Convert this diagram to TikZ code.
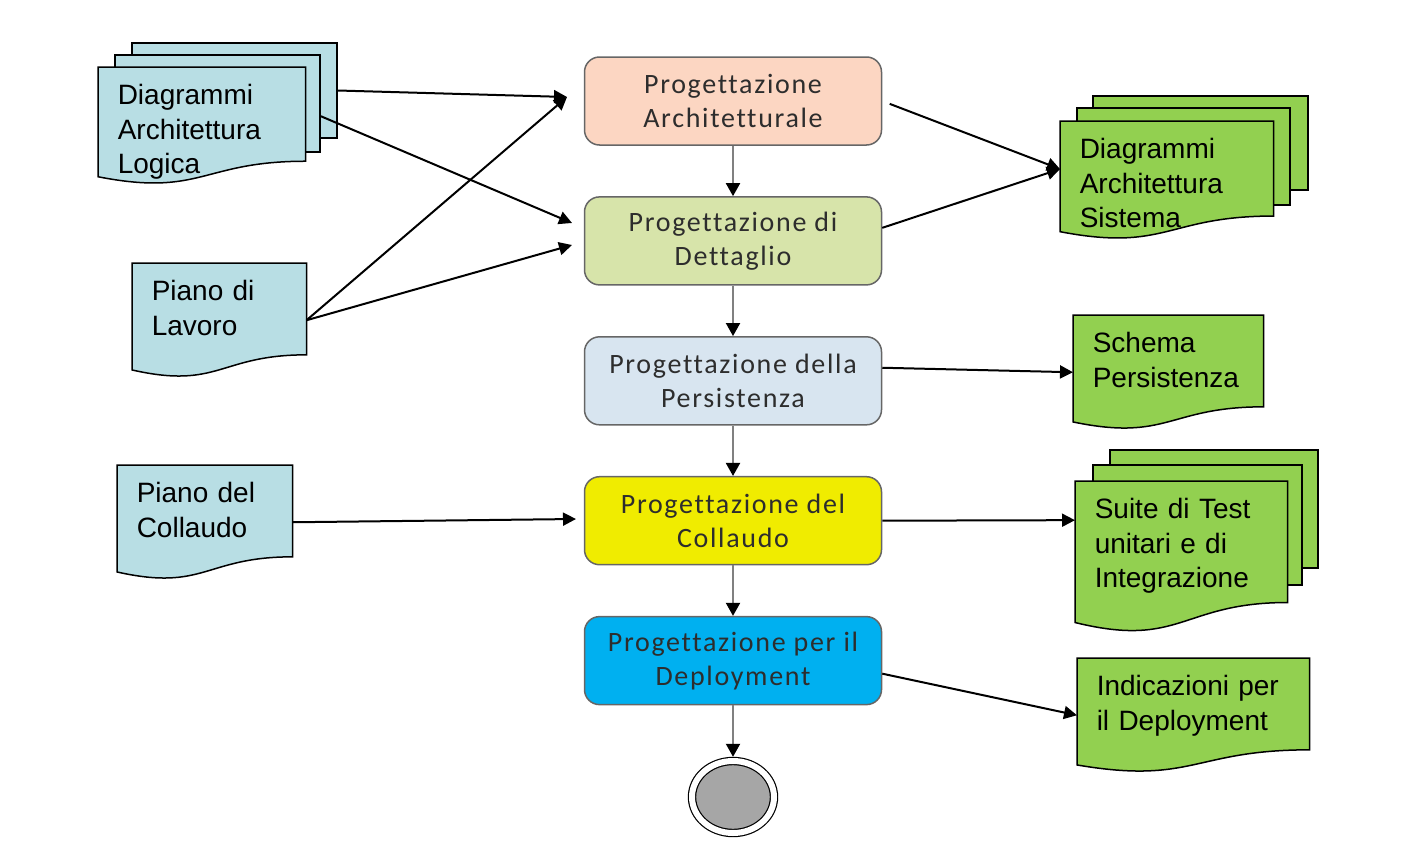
\documentclass[tikz,border=0pt]{standalone}
\usepackage{fontspec}
\setmainfont{Liberation Sans}
\newfontfamily\boxfont[LetterSpace=6, Ligatures=NoCommon]{Carlito}
\usetikzlibrary{positioning, arrows.meta, shapes.geometric}
\definecolor{pesca}{RGB}{252,214,194}
\definecolor{verdino}{RGB}{215,228,170}
\definecolor{azzurrino}{RGB}{216,229,240}
\definecolor{giallo}{RGB}{240,236,0}
\definecolor{ciano}{RGB}{0,176,240}
\definecolor{docBlu}{RGB}{184,222,228}
\definecolor{docVerde}{RGB}{146,208,80}
\definecolor{grigioScuro}{RGB}{45,45,45}

% foglio con bordo inferiore ondulato
\newdimen\fglL \newdimen\fglR \newdimen\fglT \newdimen\fglB \newdimen\fglM \newdimen\fglH
\makeatletter
\pgfdeclareshape{foglio}{%
  \inheritsavedanchors[from=rectangle]
  \inheritanchorborder[from=rectangle]
  \inheritanchor[from=rectangle]{center}
  \inheritanchor[from=rectangle]{text}
  \inheritanchor[from=rectangle]{base}
  \inheritanchor[from=rectangle]{north}
  \inheritanchor[from=rectangle]{south}
  \inheritanchor[from=rectangle]{east}
  \inheritanchor[from=rectangle]{west}
  \inheritanchor[from=rectangle]{north east}
  \inheritanchor[from=rectangle]{north west}
  \inheritanchor[from=rectangle]{south east}
  \inheritanchor[from=rectangle]{south west}
  \backgroundpath{%
    \southwest \fglL=\pgf@x \fglB=\pgf@y
    \northeast \fglR=\pgf@x \fglT=\pgf@y
    \fglH=\fglT \advance\fglH by -\fglB
    \fglM=.5\fglL \advance\fglM by .5\fglR
    \pgfpathmoveto{\pgfqpoint{\fglL}{\fglT}}
    \pgfpathlineto{\pgfqpoint{\fglR}{\fglT}}
    \pgfpathlineto{\pgfpoint{\fglR}{\fglB+0.198*\fglH}}
    \pgfpathcurveto{\pgfpoint{\fglM}{\fglB+0.198*\fglH}}{\pgfpoint{\fglM}{\fglB-0.107*\fglH}}{\pgfpoint{\fglL}{\fglB+0.066*\fglH}}
    \pgfpathclose
  }%
}
\makeatother

\tikzset{
  fase/.style={rectangle, rounded corners=7.5pt, draw=black!60, line width=0.75pt,
    minimum width=148.5pt, minimum height=44pt, align=center, text=grigioScuro,
    font=\boxfont\fontsize{14}{17}\selectfont},
  foglio/.style={shape=foglio, draw=black, line width=0.75pt, align=left,
    inner xsep=9.5pt, inner ysep=0pt, text height=18.5pt, anchor=north west,
    font=\fontsize{14}{17.3}\selectfont},
  retro/.style={rectangle, draw=black, line width=0.75pt, inner sep=0pt},
  link/.style={draw=black, line width=1pt, -{Triangle[length=6.5pt, width=6.5pt]}},
  flusso/.style={draw=black!50, line width=1pt, -{Triangle[color=black, length=6.5pt, width=7pt]}},
  fine/.style={ellipse, draw=black, line width=0.6pt, double=white, double distance=3pt,
    fill=black!35, minimum width=41pt, minimum height=36pt, inner sep=0pt, outer sep=2.1pt}
}

\begin{document}
\begin{tikzpicture}[x=0.5pt, y=-0.5pt]
\useasboundingbox (0,0) rectangle (1423,862);

% Fasi
\node[fase, fill=pesca] (arch) at (733,101) {Progettazione\\Architetturale};
\node[fase, fill=verdino, below=25.2pt of arch] (det) {Progettazione di\\Dettaglio};
\node[fase, fill=azzurrino, below=25.2pt of det] (pers) {Progettazione della\\Persistenza};
\node[fase, fill=giallo, below=25.2pt of pers] (coll) {Progettazione del\\Collaudo};
\node[fase, fill=ciano, below=25.2pt of coll] (depl) {Progettazione per il\\Deployment};
\node[fine] (fine) at (733,797) {};

% Documenti in ingresso
\node[retro, fill=docBlu, minimum width=102.5pt, minimum height=47.5pt] (dal3) at (234.5,90.5) {};
\node[retro, fill=docBlu, minimum width=102.5pt, minimum height=48.5pt] (dal2) at (217.5,103.5) {};
\node[foglio, fill=docBlu, text width=84pt, text depth=39.5pt] (dal1) at (98,67) {Diagrammi\\Architettura\\Logica};
\node[foglio, fill=docBlu, text width=67.5pt, text depth=38pt] (pdl) at (132,263) {Piano di\\Lavoro};
\node[foglio, fill=docBlu, text width=68pt, text depth=38pt] (pdc) at (117,465) {Piano del\\Collaudo};

% Documenti in uscita
\node[retro, fill=docVerde, minimum width=107.5pt, minimum height=47pt] (das3) at (1200.5,143) {};
\node[retro, fill=docVerde, minimum width=106.5pt, minimum height=48.5pt] (das2) at (1183.5,156.5) {};
\node[foglio, fill=docVerde, text width=87pt, text depth=40pt] (das1) at (1060,121) {Diagrammi\\Architettura\\Sistema};
\node[foglio, fill=docVerde, text width=75.5pt, text depth=38pt] (sp) at (1073,315) {Schema\\Persistenza};
\node[retro, fill=docVerde, minimum width=104pt, minimum height=59pt] (sut3) at (1214,509) {};
\node[retro, fill=docVerde, minimum width=104.5pt, minimum height=60pt] (sut2) at (1197.5,525) {};
\node[foglio, fill=docVerde, text width=86.5pt, text depth=56.5pt] (sut1) at (1075,481) {Suite di Test\\unitari e di\\Integrazione};
\node[foglio, fill=docVerde, text width=96.5pt, text depth=38pt] (ind) at (1077,658) {Indicazioni per\\il Deployment};

% Flusso principale
\draw[flusso] (arch.south) -- (det.north);
\draw[flusso] (det.south) -- (pers.north);
\draw[flusso] (pers.south) -- (coll.north);
\draw[flusso] (coll.south) -- (depl.north);
\draw[flusso] (depl.south) -- (fine.north);

% Ingressi
\coordinate (ingA) at (567,97);
\coordinate (ingB) at (572,223);
\coordinate (ingC) at (572,245);
\coordinate (ingD) at (576,519);
\draw[link] (dal3.east) -- (ingA);
\draw[link] (dal2.-7.5) -- (ingB);
\draw[link] (pdl.east) -- (ingA);
\draw[link] (pdl.east) -- (ingC);
\draw[link] (pdc.east) -- (ingD);

% Uscite
\draw[link, shorten <=4pt] (arch.east) -- (das1.174);
\draw[link] (det.5.4) -- (das1.174);
\draw[link] (pers.5.7) -- (sp.west);
\draw[link] (coll.east) -- (sut1.161);
\draw[link] (depl.-5) -- (ind.west);
\end{tikzpicture}
\end{document}
